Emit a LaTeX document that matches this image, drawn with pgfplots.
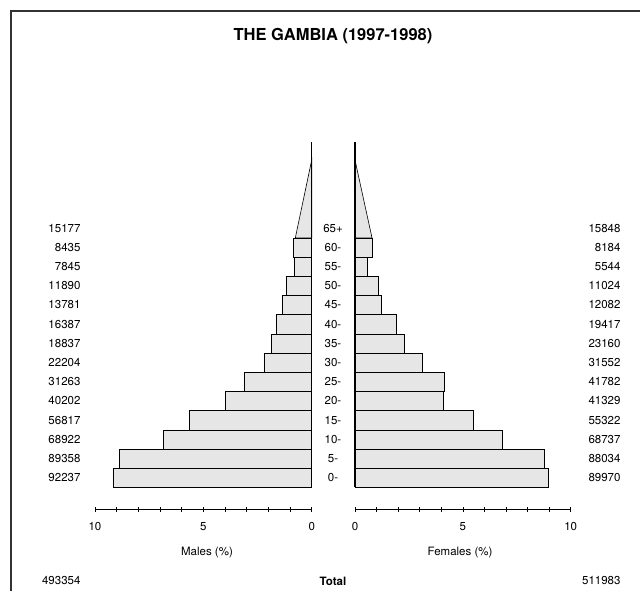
\documentclass[border=0pt]{standalone}
\usepackage{fontspec}
\setmainfont{TeX Gyre Heros}
\usepackage{pgfplots}
\pgfplotsset{compat=1.18}
\definecolor{barfill}{HTML}{E6E6E6}
\newcommand\fs{\fontsize{11.5}{13}\selectfont}
\begin{document}
\begin{tikzpicture}[font=\fs]
\path[use as bounding box] (0pt,0pt) rectangle (640pt,-591pt);
\draw[line width=1.6pt, black!80] (11pt,-595pt) -- (11pt,-11pt) -- (645pt,-11pt);
\node at (333pt,-36pt) {\bfseries\fontsize{16.5}{18}\selectfont THE GAMBIA (1997-1998)};
\pgfplotsset{pyr/.style={
  scale only axis, height=367pt, xmin=0, xmax=10, ymin=-1.625, ymax=17.49,
  axis x line*=bottom, axis y line=none, x axis line style={-},
  xtick={0,5,10}, minor xtick={1,2,3,4,6,7,8,9},
  tick align=center, major tick length=5pt, minor tick length=5pt,
  tick style={black, line width=0.7pt}, axis line style={line width=0.8pt},
  xticklabel style={font=\fs, yshift=-7pt},
  /pgf/number format/assume math mode=true, clip=false,
  anchor=south west}}
% Males
\begin{axis}[pyr, at={(95pt,-509pt)}, width=216.7pt, x dir=reverse]
\addplot[xbar, bar width=1, fill=barfill, draw=black, line width=0.6pt] coordinates {
(9.175,0) (8.888,1) (6.856,2) (5.651,3) (3.999,4) (3.110,5) (2.209,6)
(1.874,7) (1.630,8) (1.371,9) (1.183,10) (0.780,11) (0.839,12)};
\addplot[fill=barfill, draw=black, line width=0.6pt] coordinates {(0,12.5) (0.755,12.5) (0,16.55)} -- cycle;
\draw[line width=1.2pt] (axis cs:0,-0.5) -- (axis cs:0,17.49);
\end{axis}
% Females
\begin{axis}[pyr, at={(355pt,-509pt)}, width=215.7pt]
\addplot[xbar, bar width=1, fill=barfill, draw=black, line width=0.6pt] coordinates {
(8.949,0) (8.757,1) (6.837,2) (5.503,3) (4.111,4) (4.156,5) (3.138,6)
(2.304,7) (1.931,8) (1.202,9) (1.097,10) (0.551,11) (0.814,12)};
\addplot[fill=barfill, draw=black, line width=0.6pt] coordinates {(0,12.5) (0.788,12.5) (0,16.55)} -- cycle;
\draw[line width=1.8pt] (axis cs:0,-0.5) -- (axis cs:0,17.49);
\end{axis}
% labels
\foreach \lab/\m/\f [count=\i from 0] in {0-/92237/89970, 5-/89358/88034, 10-/68922/68737, 15-/56817/55322, 20-/40202/41329, 25-/31263/41782, 30-/22204/31552, 35-/18837/23160, 40-/16387/19417, 45-/13781/12082, 50-/11890/11024, 55-/7845/5544, 60-/8435/8184, 65+/15177/15848}{
  \pgfmathsetmacro\yy{-(477.8-19.2*\i)}
  \node at (333pt,\yy pt) {\lab};
  \node[anchor=east] at (84pt,\yy pt) {\m};
  \node[anchor=east] at (624pt,\yy pt) {\f};
}
\node at (207pt,-553pt) {Males (\%)};
\node at (460pt,-553pt) {Females (\%)};
\node[anchor=east] at (84pt,-581pt) {493354};
\node at (333pt,-581.5pt) {\bfseries Total};
\node[anchor=east] at (624pt,-581pt) {511983};
\end{tikzpicture}
\end{document}
